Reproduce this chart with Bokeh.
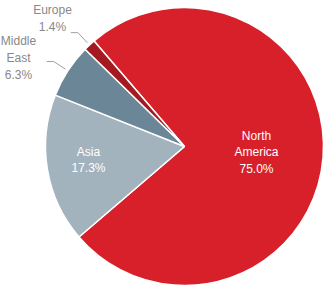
import math
from bokeh.plotting import figure
from bokeh.models import Range1d
from bokeh.core.properties import value
from bokeh.embed import file_html
from bokeh.resources import INLINE

# Data
regions = ["North America", "Asia", "Middle East", "Europe"]
shares = [75.0, 17.3, 6.3, 1.4]
label_names = ["North\nAmerica", "Asia", "Middle\nEast", "Europe"]
colors = ["#d8202a", "#a3b3be", "#6b8797", "#a31b21"]

W, H = 329, 289
p = figure(width=W, height=H, output_backend="svg", toolbar_location=None,
           x_range=Range1d(0, W), y_range=Range1d(0, H), min_border=0)
p.axis.visible = False
p.grid.visible = False
p.outline_line_color = None
p.background_fill_color = "white"
p.border_fill_color = "white"

cx, cy, r = 184, H - 146, 139
start = math.radians(130.6)
total = sum(shares)

cum = 0.0
mids = []
for name, v, c in zip(regions, shares, colors):
    a0 = start - cum / total * 2 * math.pi
    a1 = a0 - v / total * 2 * math.pi
    p.wedge(x=cx, y=cy, radius=r, start_angle=a1, end_angle=a0,
            direction="anticlock", fill_color=c, line_color="white", line_width=1.5)
    mids.append((a0 + a1) / 2)
    cum += v

texts = [f"{n}\n{v:.1f}%" for n, v in zip(label_names, shares)]

# inside labels
inside = {0: (256, H - 152), 1: (88, H - 159.5)}
for i, (x, y) in inside.items():
    p.text(x=[x], y=[y], text=[texts[i]], text_color="white",
           text_font=value("Liberation Sans"), text_font_size="12px",
           text_align="center", text_baseline="middle", text_line_height=1.2)

# outside labels with connectors
outside = {3: (52, H - 18), 2: (18, H - 57.5)}
for i, (lx, ly) in outside.items():
    m = mids[i]
    x1, y1 = cx + (r + 3) * math.cos(m), cy + (r + 3) * math.sin(m)
    x2, y2 = cx + (r + 17) * math.cos(m), cy + (r + 17) * math.sin(m)
    x3, y3 = x2 - 7, y2
    p.line(x=[x1, x2, x3], y=[y1, y2, y3], line_color="#a0a0a0", line_width=1)
    p.text(x=[lx], y=[ly], text=[texts[i]], text_color="#888888",
           text_font=value("Liberation Sans"), text_font_size="12px",
           text_align="center", text_baseline="middle", text_line_height=1.2)

open("out.html", "w").write(file_html(p, INLINE))
